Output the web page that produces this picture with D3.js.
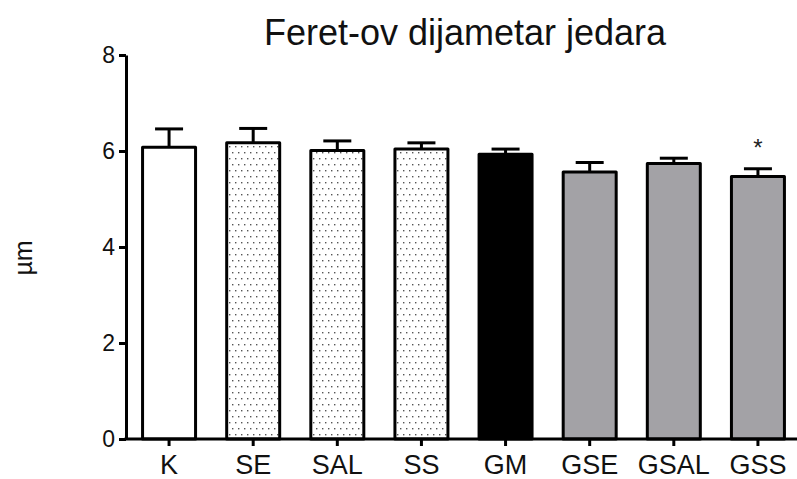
<!DOCTYPE html>
<html>
<head>
<meta charset="utf-8">
<script src="https://cdn.jsdelivr.net/npm/d3@7"></script>
<style>
  html, body { margin: 0; padding: 0; background: #fff; }
  svg { display: block; font-family: "Liberation Sans", Arial, sans-serif; }
</style>
</head>
<body>
<svg id="chart" width="797" height="479"></svg>
<script>
// Group labels, means, upper error (SEM) and significance marks
const groups = ["K", "SE", "SAL", "SS", "GM", "GSE", "GSAL", "GSS"];
const means  = [6.08, 6.17, 6.01, 6.04, 5.93, 5.56, 5.74, 5.47];
const errors = [0.38, 0.30, 0.20, 0.13, 0.11, 0.20, 0.11, 0.16];
const fills  = ["white", "dots", "dots", "dots", "black", "gray", "gray", "gray"];
const signif = ["", "", "", "", "", "", "", "*"];
const yTicks = [0, 2, 4, 6, 8];

const svg = d3.select("#chart");

// Fine dot texture for the S-groups
const defs = svg.append("defs");
const pat = defs.append("pattern")
  .attr("id", "dotfill")
  .attr("patternUnits", "userSpaceOnUse")
  .attr("width", 6).attr("height", 12);
pat.append("rect").attr("width", 6).attr("height", 12).attr("fill", "#fff");
pat.append("rect").attr("x", 1).attr("y", 2).attr("width", 1.4).attr("height", 1.4).attr("fill", "#555");
pat.append("rect").attr("x", 4).attr("y", 8).attr("width", 1.4).attr("height", 1.4).attr("fill", "#555");

const fillColor = { white: "#ffffff", dots: "url(#dotfill)", black: "#000000", gray: "#a3a2a6" };

const x = d3.scaleBand()
  .domain(groups)
  .range([127, 800])
  .paddingInner(0.37)
  .paddingOuter(0.185);

const y = d3.scaleLinear()
  .domain([0, 8])
  .range([439, 55]);

const data = groups.map((g, i) => ({ g, m: means[i], e: errors[i], f: fills[i], s: signif[i] }));

// Error bars (upper only), drawn beneath the bar outlines
const eb = svg.append("g").attr("stroke", "#000").attr("stroke-width", 3).attr("fill", "none");
data.forEach(d => {
  const cx = x(d.g) + x.bandwidth() / 2;
  eb.append("line").attr("x1", cx).attr("x2", cx).attr("y1", y(d.m)).attr("y2", y(d.m + d.e));
  eb.append("line").attr("x1", cx - 14).attr("x2", cx + 14).attr("y1", y(d.m + d.e)).attr("y2", y(d.m + d.e));
});

// Bars
svg.append("g").selectAll("rect")
  .data(data)
  .join("rect")
  .attr("x", d => x(d.g))
  .attr("y", d => y(d.m))
  .attr("width", x.bandwidth())
  .attr("height", d => y(0) - y(d.m))
  .attr("fill", d => fillColor[d.f])
  .attr("stroke", "#000")
  .attr("stroke-width", 3)
  .attr("stroke-linejoin", "round");

// Significance markers
svg.append("g").selectAll("text")
  .data(data.filter(d => d.s))
  .join("text")
  .attr("x", d => x(d.g) + x.bandwidth() / 2)
  .attr("y", d => y(d.m + d.e) - 13)
  .attr("text-anchor", "middle")
  .attr("font-size", 24)
  .attr("fill", "#222")
  .text(d => d.s);

// Y axis
const yAxis = svg.append("g")
  .attr("transform", "translate(126,0)")
  .call(d3.axisLeft(y).tickValues(yTicks).tickSize(7).tickPadding(4).tickSizeOuter(0));
yAxis.select(".domain").attr("stroke-width", 3);
yAxis.selectAll(".tick line").attr("stroke-width", 3);
yAxis.selectAll(".tick text").attr("font-size", 23).attr("font-family", "Liberation Sans, Arial, sans-serif").attr("fill", "#111");

// X axis
const xAxis = svg.append("g")
  .attr("transform", "translate(0,439)")
  .call(d3.axisBottom(x).tickSize(7).tickPadding(9).tickSizeOuter(0));
xAxis.select(".domain").attr("d", "M124.5,0H797").attr("stroke-width", 3);
xAxis.selectAll(".tick line").attr("stroke-width", 3);
xAxis.selectAll(".tick text").attr("font-size", 27).attr("font-family", "Liberation Sans, Arial, sans-serif").attr("fill", "#111");

// Title
svg.append("text")
  .attr("x", 465).attr("y", 45)
  .attr("text-anchor", "middle")
  .attr("font-size", 36)
  .attr("fill", "#111")
  .text("Feret-ov dijametar jedara");

// Y axis label
svg.append("text")
  .attr("transform", "translate(32,258) rotate(-90)")
  .attr("text-anchor", "middle")
  .attr("font-size", 25)
  .attr("fill", "#111")
  .text("µm");
</script>
</body>
</html>
